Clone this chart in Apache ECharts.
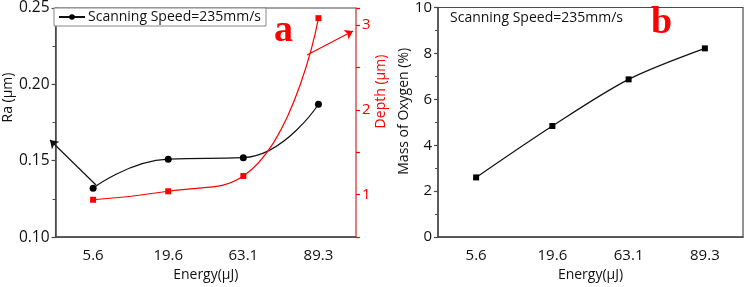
<!DOCTYPE html>
<html><head><meta charset="utf-8">
<script src="https://cdn.jsdelivr.net/npm/echarts@6/dist/echarts.min.js"></script>
<style>html,body{margin:0;padding:0;background:#fff}#c{width:748px;height:287px}</style>
</head><body><div id="c"></div>
<script>
const energies = ['5.6', '19.6', '63.1', '89.3'];
const raValues = [0.132, 0.151, 0.152, 0.187];
const depthValues = [0.94, 1.04, 1.22, 3.08];
const oxygenValues = [2.6, 4.84, 6.87, 8.22];
const legendLabel = 'Scanning Speed=235mm/s';

const FONT = 'Open Sans';
const AX = '#4a4a4a';
const RED = '#ff0000';

const chart = echarts.init(document.getElementById('c'), null, {renderer: 'canvas'});

function mainX(grid) {
  return {
    type: 'category', gridIndex: grid, data: energies, position: 'bottom',
    axisLine: {lineStyle: {color: AX, width: 1.5}},
    axisTick: {alignWithLabel: true, length: 4, lineStyle: {color: AX, width: 1.2}},
    axisLabel: {fontFamily: FONT, fontSize: 15, color: '#111', margin: 11},
    name: 'Energy(μJ)', nameLocation: 'middle', nameGap: 30,
    nameTextStyle: {fontFamily: FONT, fontSize: 14, color: '#111'},
    splitLine: {show: false}
  };
}
function minorX(grid) {
  return {
    type: 'category', gridIndex: grid, data: energies, position: 'bottom',
    axisLine: {show: false},
    axisTick: {length: 3, lineStyle: {color: AX, width: 1.2}},
    axisLabel: {show: false}, splitLine: {show: false}
  };
}

const option = {
  animation: false,
  grid: [
    {left: 49, top: 7, width: 307, height: 234, show: true, borderColor: AX, borderWidth: 1.2, backgroundColor: 'transparent'},
    {left: 438, top: 7, width: 305, height: 238, show: true, borderColor: AX, borderWidth: 1.2, backgroundColor: 'transparent'}
  ],
  legend: {
    data: [legendLabel], left: 54, top: 8, padding: [2, 5, 2, 4],
    borderColor: '#888', borderWidth: 1, backgroundColor: '#fff',
    itemWidth: 26, itemHeight: 7, itemGap: 4,
    textStyle: {fontFamily: FONT, fontSize: 14, color: '#111', padding: [0, 0, 0, -2]}
  },
  title: [
    {text: legendLabel, left: 445, top: 6, textStyle: {fontFamily: FONT, fontSize: 14, fontWeight: 'normal', color: '#111'}}
  ],
  graphic: [
    {type: 'text', left: 274, top: 12, style: {text: 'a', font: 'bold 38px "Liberation Serif"', fill: RED}},
    {type: 'text', left: 651, top: 4, style: {text: 'b', font: 'bold 38px "Liberation Serif"', fill: RED}}
  ],
  xAxis: [mainX(0), minorX(0), mainX(1), minorX(1)],
  yAxis: [
    {
      type: 'value', gridIndex: 0, position: 'left', min: 0.10, max: 0.25, interval: 0.05,
      axisLine: {show: true, lineStyle: {color: AX, width: 1.5}},
      axisTick: {show: true, length: 4, lineStyle: {color: AX, width: 1.2}},
      minorTick: {show: true, splitNumber: 2, length: 3, lineStyle: {color: AX}},
      axisLabel: {fontFamily: FONT, fontSize: 15.5, color: '#111', margin: 6, formatter: v => v.toFixed(2)},
      splitLine: {show: false},
      name: 'Ra (μm)', nameLocation: 'middle', nameGap: 35,
      nameTextStyle: {fontFamily: FONT, fontSize: 14, color: '#111', padding: [0, 0, 0, 50]}
    },
    {
      type: 'value', gridIndex: 0, position: 'right', min: 0.5, max: 3.2, interval: 0.5,
      axisLine: {show: true, lineStyle: {color: '#ff7777', width: 1.5}},
      axisTick: {show: true, length: 4, lineStyle: {color: RED, width: 1.2}},
      axisLabel: {fontFamily: FONT, fontSize: 15, color: RED, margin: 6,
        formatter: v => (Math.abs(v - Math.round(v)) < 1e-6 ? String(Math.round(v)) : '')},
      splitLine: {show: false},
      name: 'Depth (μm)', nameLocation: 'middle', nameGap: 18,
      nameTextStyle: {fontFamily: FONT, fontSize: 14, color: RED, padding: [0, 0, 0, 62]}
    },
    {
      type: 'value', gridIndex: 1, position: 'left', min: 0, max: 10, interval: 2,
      axisLine: {show: true, lineStyle: {color: AX, width: 1.5}},
      axisTick: {show: true, length: 4, lineStyle: {color: AX, width: 1.2}},
      minorTick: {show: true, splitNumber: 2, length: 3, lineStyle: {color: AX}},
      axisLabel: {fontFamily: FONT, fontSize: 15, color: '#111', margin: 6},
      splitLine: {show: false},
      name: 'Mass of Oxygen (%)', nameLocation: 'middle', nameGap: 19,
      nameTextStyle: {fontFamily: FONT, fontSize: 14, color: '#111', padding: [0, 0, 0, 22]}
    }
  ],
  series: [
    {
      name: legendLabel, type: 'line', xAxisIndex: 0, yAxisIndex: 0, data: raValues,
      smooth: 0.5, symbol: 'circle', symbolSize: 7,
      lineStyle: {color: '#111', width: 1.2}, itemStyle: {color: '#000'},
      markLine: {
        silent: true, symbol: ['none', 'arrow'], symbolSize: 8,
        label: {show: false}, lineStyle: {color: '#111', width: 1.2, type: 'solid'},
        data: [[{x: 96, y: 185}, {x: 50, y: 140}]]
      }
    },
    {
      name: 'Depth', type: 'line', xAxisIndex: 0, yAxisIndex: 1, data: depthValues,
      smooth: 0.5, symbol: 'rect', symbolSize: 6,
      lineStyle: {color: RED, width: 1.2}, itemStyle: {color: RED},
      markLine: {
        silent: true, symbol: ['none', 'arrow'], symbolSize: 8,
        label: {show: false}, lineStyle: {color: RED, width: 1.2, type: 'solid'},
        data: [[{x: 307, y: 55}, {x: 353, y: 31}]]
      }
    },
    {
      name: 'Oxygen', type: 'line', xAxisIndex: 2, yAxisIndex: 2, data: oxygenValues,
      smooth: 0.3, symbol: 'rect', symbolSize: 6,
      lineStyle: {color: '#111', width: 1.2}, itemStyle: {color: '#000'}
    }
  ]
};
chart.setOption(option);
</script></body></html>
